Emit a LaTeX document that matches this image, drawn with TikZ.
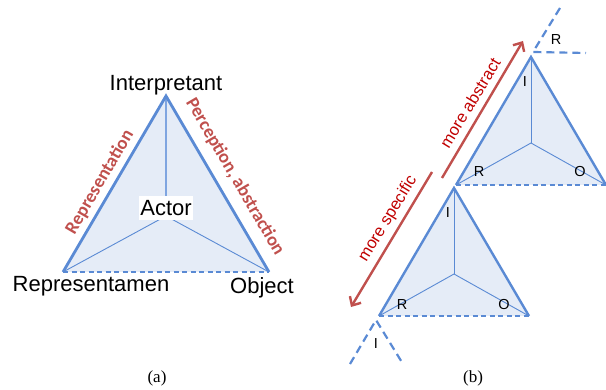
\documentclass[tikz,border=0pt]{standalone}
\usepackage{fontspec}
\setmainfont{Liberation Serif}
\newfontfamily\arialf{Liberation Sans}
\newfontfamily\calib{Carlito}
\usetikzlibrary{arrows.meta}
\definecolor{edgeblue}{HTML}{5A8AD4}
\definecolor{innerblue}{HTML}{7FA5E0}
\definecolor{fillblue}{HTML}{E5ECF7}
\definecolor{lblred}{HTML}{C0504D}
\definecolor{txtred}{HTML}{C00000}
\tikzset{
  outer/.style={draw=edgeblue, line width=2.8pt, line join=miter},
  outerb/.style={draw=edgeblue, line width=2.4pt},
  basedash/.style={draw=edgeblue, line width=2.6pt, dash pattern=on 5pt off 3.5pt},
  fragdash/.style={draw=edgeblue, line width=2.2pt, dash pattern=on 8pt off 5pt},
  inner/.style={draw=edgeblue, line width=0.9pt},
  innerv/.style={draw=innerblue, line width=1.6pt},
  bigtxt/.style={font=\arialf\fontsize{22}{26}\selectfont, inner sep=1pt},
  smalltxt/.style={font=\arialf\fontsize{14.5}{17}\selectfont, inner sep=0pt},
  redlbl/.style={font=\calib\bfseries\fontsize{18.5}{22}\selectfont, text=lblred, inner sep=0pt},
  redtxt/.style={font=\arialf\fontsize{16.5}{20}\selectfont, text=txtred, inner sep=0pt},
  redarrow/.style={draw=lblred, line width=2.4pt, -{Straight Barb[length=7pt,width=13pt,line width=2.4pt]}},
  caption/.style={font=\fontsize{17}{20}\selectfont, inner sep=0pt}
}
\begin{document}
\begin{tikzpicture}[x=1pt,y=-1pt]
\useasboundingbox (0,0) rectangle (606,390);
% ---------- (a) ----------
\coordinate (aI) at (166,96);
\coordinate (aR) at (63,272);
\coordinate (aO) at (269,272);
\coordinate (aC) at (166,216);
\fill[fillblue] (aI) -- (aR) -- (aO) -- cycle;
\draw[innerv] (aI) -- (aC);
\draw[inner] (aR) -- (aC) -- (aO);
\draw[basedash] (aR) -- (aO);
\draw[outer] (aR) -- (aI) -- (aO);
\node[bigtxt, fill=white, inner xsep=1.5pt, inner ysep=4pt] (actor) at (166,208) {Actor};
\node[bigtxt] (interp) at (166,85) {Interpretant};
\node[bigtxt] (repr) at (91,286) {Representamen};
\node[bigtxt] (obj) at (262,288) {Object};
\node[redlbl, rotate=59.7] (lrep) at (100,182) {Representation};
\node[redlbl, rotate=-59.7] (lper) at (235,177) {Perception, abstraction};
\node[caption] (capa) at (157,378) {(a)};
% ---------- (b) upper triangle ----------
\coordinate (uI) at (531,57);
\coordinate (uR) at (456,185);
\coordinate (uO) at (606,185);
\coordinate (uC) at (531,143);
\fill[fillblue] (uI) -- (uR) -- (uO) -- cycle;
\draw[inner] (uI) -- (uC);
\draw[inner] (uR) -- (uC) -- (uO);
\draw[basedash] (uR) -- (uO);
\draw[outerb] (uR) -- (uI) -- (uO);
\node[smalltxt] (uIl) at (525,82) {I};
\node[smalltxt] (uRl) at (479,172) {R};
\node[smalltxt] (uOl) at (580,172) {O};
% ---------- (b) lower triangle ----------
\coordinate (lI) at (454,188);
\coordinate (lR) at (379,316);
\coordinate (lO) at (529,316);
\coordinate (lC) at (454,274);
\fill[fillblue] (lI) -- (lR) -- (lO) -- cycle;
\draw[inner] (lI) -- (lC);
\draw[inner] (lR) -- (lC) -- (lO);
\draw[basedash] (lR) -- (lO);
\draw[outerb] (lR) -- (lI) -- (lO);
\node[smalltxt] (lIl) at (448,213) {I};
\node[smalltxt] (lRl) at (402,305) {R};
\node[smalltxt] (lOl) at (504,305) {O};
% ---------- fragments ----------
\coordinate (tV) at (533,52);
\coordinate (tA) at (560,8);
\coordinate (tB) at (586,53);
\draw[fragdash] (tA) -- (tV) -- (tB);
\node[smalltxt] (tRl) at (556,40) {R};
\coordinate (bV) at (376,320);
\coordinate (bA) at (350,364);
\coordinate (bB) at (403,364);
\draw[fragdash] (bA) -- (bV) -- (bB);
\node[smalltxt] (bIl) at (376,344) {I};
% ---------- arrows ----------
\coordinate (ab0) at (442,178);
\coordinate (ab1) at (523,41);
\draw[redarrow] (ab0) -- (ab1);
\node[redtxt, rotate=58.6] (tabs) at (470,103) {more abstract};
\coordinate (sp0) at (432,172);
\coordinate (sp1) at (351,307);
\draw[redarrow] (sp0) -- (sp1);
\node[redtxt, rotate=58.6] (tspec) at (388,219) {more specific};
\node[caption] (capb) at (473,378) {(b)};
\end{tikzpicture}
\end{document}
